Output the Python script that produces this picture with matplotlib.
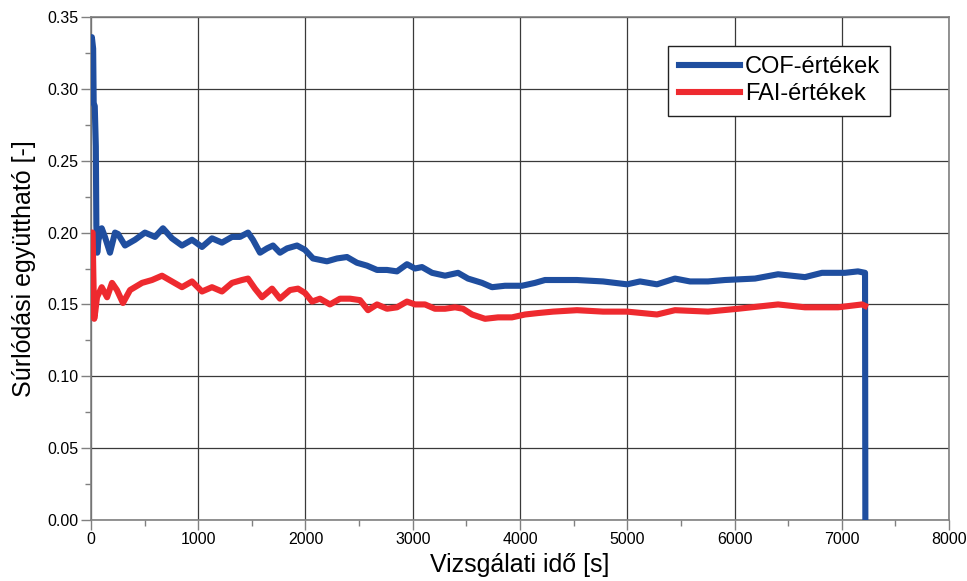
import matplotlib
matplotlib.use("Agg")
import matplotlib.pyplot as plt
from matplotlib.ticker import MultipleLocator, FormatStrFormatter

plt.rcParams['font.family'] = ['Liberation Sans', 'DejaVu Sans']

# COF series (time [s], value)
cof_t = [0, 8, 20, 25, 35, 45, 50, 58, 70, 100, 130, 177, 224, 252, 317, 410, 503, 597,
         671, 755, 848, 942, 1035, 1128, 1221, 1315, 1389, 1464, 1510, 1576, 1641, 1697,
         1762, 1828, 1921, 1995, 2070, 2200, 2294, 2387, 2480, 2573, 2667, 2760, 2853,
         2946, 3021, 3086, 3180, 3301, 3422, 3515, 3646, 3739, 3860, 4019, 4140, 4233,
         4308, 4531, 4774, 4998, 5119, 5277, 5445, 5585, 5753, 5911, 6191, 6406, 6657,
         6816, 7030, 7151, 7217, 7220]
cof_v = [0.310, 0.336, 0.328, 0.290, 0.288, 0.260, 0.205, 0.186, 0.195, 0.203, 0.197,
         0.186, 0.200, 0.199, 0.191, 0.195, 0.200, 0.197, 0.203, 0.196, 0.191, 0.195,
         0.190, 0.196, 0.193, 0.197, 0.197, 0.200, 0.195, 0.186, 0.189, 0.191, 0.186,
         0.189, 0.191, 0.188, 0.182, 0.180, 0.182, 0.183, 0.179, 0.177, 0.174, 0.174,
         0.173, 0.178, 0.175, 0.176, 0.172, 0.170, 0.172, 0.168, 0.165, 0.162, 0.163,
         0.163, 0.165, 0.167, 0.167, 0.167, 0.166, 0.164, 0.166, 0.164, 0.168, 0.166,
         0.166, 0.167, 0.168, 0.171, 0.169, 0.172, 0.172, 0.173, 0.172, 0.0]

# FAI series
fai_t = [0, 15, 22, 30, 40, 56, 100, 150, 196, 242, 298, 364, 476, 569, 662, 755, 848,
         942, 1035, 1128, 1221, 1315, 1408, 1464, 1529, 1594, 1688, 1762, 1855, 1930,
         1995, 2061, 2135, 2228, 2322, 2415, 2508, 2583, 2667, 2760, 2853, 2946, 3021,
         3114, 3207, 3301, 3394, 3469, 3553, 3674, 3795, 3925, 4047, 4168, 4308, 4531,
         4774, 4998, 5277, 5445, 5753, 6033, 6406, 6657, 6965, 7189, 7217]
fai_v = [0.200, 0.200, 0.170, 0.140, 0.145, 0.155, 0.162, 0.155, 0.165, 0.160, 0.151,
         0.160, 0.165, 0.167, 0.170, 0.166, 0.162, 0.166, 0.159, 0.162, 0.159, 0.165,
         0.167, 0.168, 0.161, 0.155, 0.161, 0.154, 0.160, 0.161, 0.158, 0.152, 0.154,
         0.150, 0.154, 0.154, 0.153, 0.146, 0.150, 0.147, 0.148, 0.152, 0.150, 0.150,
         0.147, 0.147, 0.148, 0.147, 0.143, 0.140, 0.141, 0.141, 0.143, 0.144, 0.145,
         0.146, 0.145, 0.145, 0.143, 0.146, 0.145, 0.147, 0.150, 0.148, 0.148, 0.150,
         0.149]

series_labels = ['COF-értékek', 'FAI-értékek']
x_label = 'Vizsgálati idő [s]'
y_label = 'Súrlódási együttható [-]'

fig = plt.figure(figsize=(9.67, 5.81), dpi=100)
ax = fig.add_axes([0.0941, 0.105, 0.8873, 0.8657])

ax.plot(cof_t, cof_v, color='#1F4E9F', lw=4.4, solid_joinstyle='round',
        label=series_labels[0], zorder=3)
ax.plot(fai_t, fai_v, color='#EE2A2F', lw=4.4, solid_joinstyle='round',
        label=series_labels[1], zorder=4)

ax.set_xlim(0, 8000)
ax.set_ylim(0, 0.35)
ax.xaxis.set_major_locator(MultipleLocator(1000))
ax.xaxis.set_minor_locator(MultipleLocator(500))
ax.yaxis.set_major_locator(MultipleLocator(0.05))
ax.yaxis.set_minor_locator(MultipleLocator(0.025))
ax.yaxis.set_major_formatter(FormatStrFormatter('%.2f'))

ax.grid(True, which='major', color='#3a3a3a', lw=0.9)
ax.set_axisbelow(True)
for s in ax.spines.values():
    s.set_color('#808080')
    s.set_linewidth(1.2)
ax.tick_params(which='major', length=7, width=1, color='#808080', labelsize=11.5,
               pad=2)
ax.tick_params(which='minor', length=4, width=1, color='#808080')

ax.set_xlabel(x_label, fontsize=18, labelpad=4)
ax.set_ylabel(y_label, fontsize=18, labelpad=8)

leg = ax.legend(loc='upper left', bbox_to_anchor=(0.6725, 0.943), fontsize=17,
                frameon=True, fancybox=False, edgecolor='#222222', framealpha=1,
                handlelength=2.6, handletextpad=0.2, borderpad=0.45,
                labelspacing=0.2, borderaxespad=0)
leg.get_frame().set_linewidth(1.0)

fig.savefig('out.png', dpi=100)
